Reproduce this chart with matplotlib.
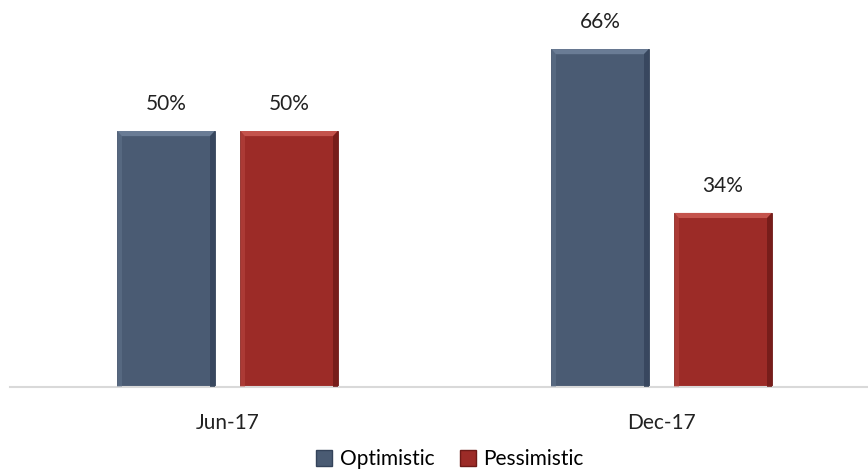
import matplotlib.pyplot as plt
from matplotlib.patches import Polygon
from matplotlib.lines import Line2D
import numpy as np

categories = ["Jun-17", "Dec-17"]
series = ["Optimistic", "Pessimistic"]
optimistic = [50, 66]
pessimistic = [50, 34]

colors = ["#4A5B73", "#9C2B27"]
light = ["#6A7C95", "#C4534C"]
dark = ["#34435A", "#6E1A17"]

plt.rcParams["font.family"] = ["Lato", "DejaVu Sans"]

fig = plt.figure(figsize=(8.68, 4.70), dpi=100)
ax = fig.add_axes([10 / 868, 83 / 470, 858 / 868, 387 / 470])

x = np.arange(len(categories))
width = 0.224
offset = 0.1417

bx = 0.01  # bevel size in x (data units)
by = 1.0   # bevel size in y (data units)


def bevel(rect, i):
    x0, y0 = rect.get_x(), rect.get_y()
    x1, y1 = x0 + rect.get_width(), y0 + rect.get_height()
    # top light strip
    ax.add_patch(Polygon([[x0, y1], [x1, y1], [x1 - bx, y1 - by], [x0 + bx, y1 - by]],
                         closed=True, fc=light[i], ec="none", zorder=3))
    # right dark strip
    ax.add_patch(Polygon([[x1, y1], [x1, y0], [x1 - bx, y0], [x1 - bx, y1 - by]],
                         closed=True, fc=dark[i], ec="none", alpha=0.8, zorder=3))
    # left slightly lighter strip
    ax.add_patch(Polygon([[x0, y1], [x0, y0], [x0 + bx, y0], [x0 + bx, y1 - by]],
                         closed=True, fc=light[i], ec="none", alpha=0.4, zorder=3))


for i, vals in enumerate([optimistic, pessimistic]):
    pos = x - offset if i == 0 else x + offset
    bars = ax.bar(pos, vals, width, color=colors[i], edgecolor=dark[i],
                  linewidth=0.6, zorder=2, label=series[i])
    for rect, v in zip(bars, vals):
        bevel(rect, i)
        ax.text(rect.get_x() + rect.get_width() / 2, v + 5.3, f"{v}%",
                ha="center", va="center", fontsize=15, color="#222222")

ax.set_xlim((10 - 227.5) / 434, (868 - 227.5) / 434)
ax.set_ylim(0, 387 / 5.12)

for s in ["top", "right", "left"]:
    ax.spines[s].set_visible(False)
ax.spines["bottom"].set_color("#D9D9D9")
ax.spines["bottom"].set_linewidth(1.5)
ax.set_yticks([])
ax.set_xticks(x)
ax.set_xticklabels(categories, fontsize=15, color="#222222")
ax.tick_params(axis="x", length=0, pad=19)

handles = [Line2D([0], [0], marker="s", linestyle="none", markersize=11,
                  markerfacecolor=colors[i], markeredgecolor=dark[i]) for i in range(2)]
fig.legend(handles, series, loc="center", bbox_to_anchor=(449 / 868, 11 / 470), ncol=2,
           frameon=False, fontsize=15, handletextpad=0.25, columnspacing=1.1,
           handlelength=1.0, borderpad=0)

fig.savefig("out.png", dpi=100)
